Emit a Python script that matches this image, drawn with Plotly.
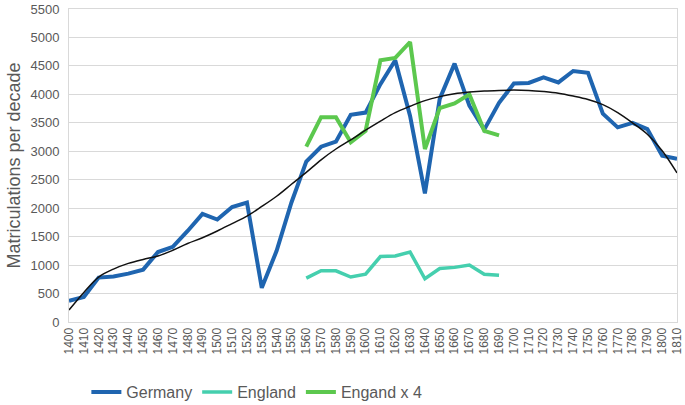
import plotly.graph_objects as go

decades = [str(y) for y in range(1400, 1820, 10)]

germany = [370, 440, 780, 800, 850, 920, 1230, 1320, 1600, 1900, 1800, 2020, 2100, 600,
           1250, 2100, 2820, 3080, 3170, 3640, 3680, 4180, 4600, 3620, 2260, 3920, 4540,
           3800, 3380, 3850, 4190, 4200, 4300, 4210, 4410, 4380, 3660, 3420, 3500, 3390,
           2920, 2870]

england_decades = [str(y) for y in range(1560, 1700, 10)]
england = [770, 900, 900, 790, 840, 1150, 1160, 1230, 760, 940, 960, 1000, 840, 820]
england_x4 = [3080, 3600, 3600, 3160, 3360, 4600, 4640, 4920, 3040, 3760, 3840, 4000, 3360, 3280]

trend = [210, 520, 790, 930, 1030, 1100, 1160, 1260, 1380, 1480, 1600, 1730, 1860, 2030,
         2210, 2420, 2630, 2850, 3040, 3200, 3370, 3530, 3680, 3790, 3890, 3960, 4010,
         4040, 4060, 4070, 4075, 4070, 4050, 4020, 3970, 3910, 3820, 3680, 3500, 3300,
         3010, 2620]

y_ticks = list(range(0, 5501, 500))

fig = go.Figure()
fig.add_trace(go.Scatter(x=decades, y=germany, mode="lines", name="Germany",
                         line=dict(color="#1f65b0", width=4)))
fig.add_trace(go.Scatter(x=england_decades, y=england, mode="lines", name="England",
                         line=dict(color="#45cfae", width=3.5)))
fig.add_trace(go.Scatter(x=england_decades, y=england_x4, mode="lines", name="Engand x 4",
                         line=dict(color="#5cc84e", width=4)))
fig.add_trace(go.Scatter(x=decades, y=trend, mode="lines", name="trend", showlegend=False,
                         line=dict(color="#111111", width=1.5, shape="spline")))

fig.update_layout(
    width=685, height=405,
    margin=dict(l=69, r=8, t=9, b=83, autoexpand=False),
    paper_bgcolor="white", plot_bgcolor="white",
    font=dict(family="Liberation Sans, sans-serif", color="#595959", size=12),
    showlegend=True,
    legend=dict(orientation="h", x=0.309, xanchor="center", y=-0.224, yanchor="middle",
                font=dict(size=16, color="#595959"), itemwidth=30),
    xaxis=dict(type="category", categoryorder="array", categoryarray=decades,
               tickmode="array", tickvals=decades, ticktext=decades,
               range=[0, 41], tickangle=-90, showgrid=False, showline=True, mirror=True,
               linecolor="#d9d9d9", linewidth=1, ticks="", tickfont=dict(size=12),
               automargin=False),
    yaxis=dict(range=[0, 5500], tickvals=y_ticks, showgrid=True, gridcolor="#d9d9d9",
               gridwidth=1, showline=True, mirror=True, linecolor="#d9d9d9", zeroline=False,
               tickfont=dict(size=13), automargin=False, ticklabelstandoff=6,
               title=dict(text="Matriculations per decade", font=dict(size=18, color="#595959"),
                          standoff=5)),
)

fig.write_html("out.html", config={"displayModeBar": False},
               post_script="document.body.style.margin='0';document.body.style.padding='0';")
